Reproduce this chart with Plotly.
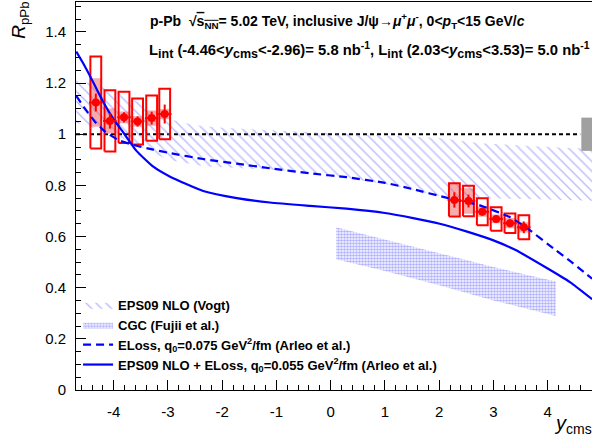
import plotly.graph_objects as go

# ---------------- data ----------------
# J/psi R_pPb, backward rapidity
y_bwd = [-4.33, -4.07, -3.81, -3.56, -3.30, -3.06]
r_bwd = [1.124, 1.052, 1.066, 1.050, 1.063, 1.079]
stat_bwd = [0.035, 0.030, 0.020, 0.020, 0.025, 0.037]
sysu_bwd = [0.180, 0.120, 0.100, 0.090, 0.088, 0.099]   # uncorrelated syst (open boxes)
sysc_bwd = [0.095, 0.049, 0.023, 0.020, 0.030, 0.020]   # correlated syst (filled boxes)

# forward rapidity
y_fwd = [2.28, 2.54, 2.795, 3.05, 3.305, 3.56]
r_fwd = [0.743, 0.739, 0.697, 0.669, 0.652, 0.636]
stat_fwd = [0.030, 0.025, 0.015, 0.015, 0.015, 0.023]
sysu_fwd = [0.065, 0.060, 0.053, 0.046, 0.038, 0.047]
sysc_fwd = [0.062, 0.050, 0.020, 0.017, 0.020, 0.020]

GLOBAL_SYS = 0.065

# EPS09 NLO (Vogt) band
eps_x = [-4.69, -4.0, -3.5, -3.0, -2.5, -2.0, -1.0, 0.0, 1.0, 2.0, 2.75, 3.5, 4.2, 4.82]
eps_hi = [1.215, 1.17, 1.12, 1.06, 1.035, 1.025, 1.015, 1.005, 0.995, 0.985, 0.965, 0.955, 0.948, 0.943]
eps_lo_x = [-4.69, -4.0, -3.5, -3.0, -2.35, -1.0, -0.38, 0.29, 1.0, 1.52, 2.13, 3.0, 4.0, 4.82]
eps_lo = [1.045, 1.0, 0.95, 0.90, 0.875, 0.86, 0.85, 0.828, 0.805, 0.782, 0.752, 0.748, 0.745, 0.740]

# CGC (Fujii et al.) band
cgc_x = [0.1, 1.0, 2.0, 3.0, 4.15]
cgc_hi = [0.636, 0.589, 0.535, 0.481, 0.424]
cgc_lo = [0.511, 0.465, 0.410, 0.350, 0.289]

# ELoss, q0 = 0.075 GeV^2/fm
eloss_x = [-4.69, -4.53, -4.35, -4.16, -3.89, -3.58, -3.27, -2.96, -2.35, -1.73, -1.12,
           -0.38, 0.29, 1.0, 1.52, 2.13, 2.75, 3.3, 3.56, 4.16, 4.41, 4.82]
eloss_r = [1.15, 1.10, 1.05, 1.01, 0.975, 0.955, 0.94, 0.926, 0.903, 0.885, 0.867,
           0.847, 0.832, 0.81, 0.785, 0.752, 0.722, 0.676, 0.642, 0.545, 0.505, 0.435]

# EPS09 NLO + ELoss, q0 = 0.055 GeV^2/fm
epsel_x = [-4.69, -4.53, -4.43, -4.19, -4.0, -3.8, -3.58, -3.27, -2.96, -2.35, -1.73,
           -1.12, -0.38, 0.29, 1.0, 1.52, 2.01, 2.5, 3.0, 3.4, 4.0, 4.41, 4.82]
epsel_r = [1.323, 1.265, 1.225, 1.125, 1.058, 1.0, 0.935, 0.873, 0.834, 0.778, 0.750,
           0.733, 0.720, 0.709, 0.692, 0.672, 0.650, 0.620, 0.585, 0.548, 0.475, 0.422, 0.355]

x_ticks = [-4, -3, -2, -1, 0, 1, 2, 3, 4]
x_ticktext = ["-4", "-3", "-2", "-1", "0", "1", "2", "3", "4"]

# ---------------- styling ----------------
FONT = "Liberation Sans"
RED = "rgb(255,0,0)"
BLUE = "rgb(0,0,255)"
BOX_HW = 0.1
XERR = 0.125
X_RANGE = [-4.695, 4.817]
Y_RANGE = [0.0, 1.517]


def boxes(xs, ys, hs):
    bx, by = [], []
    for x, y, h in zip(xs, ys, hs):
        bx += [x - BOX_HW, x + BOX_HW, x + BOX_HW, x - BOX_HW, x - BOX_HW, None]
        by += [y - h, y - h, y + h, y + h, y - h, None]
    return bx, by


def sub(s):
    return "<sub><span style='font-size:12.5px'>" + s + "</span></sub>"


fig = go.Figure()

# EPS09 band
fig.add_trace(go.Scatter(
    x=eps_x + eps_lo_x[::-1], y=eps_hi + eps_lo[::-1],
    fill="toself", mode="lines", line=dict(width=0),
    fillcolor="rgba(0,0,0,0)",
    fillpattern=dict(shape="\\", fgcolor="rgb(120,120,255)", bgcolor="rgba(0,0,0,0)",
                     size=7, solidity=0.2),
    name="<b>EPS09 NLO (Vogt)</b>", hoverinfo="skip"))

# CGC band
fig.add_trace(go.Scatter(
    x=cgc_x + cgc_x[::-1], y=cgc_hi + cgc_lo[::-1],
    fill="toself", mode="lines", line=dict(width=0),
    fillcolor="rgba(0,0,0,0)",
    fillpattern=dict(shape=".", fgcolor="rgb(100,100,255)", bgcolor="rgba(0,0,0,0)",
                     size=3, solidity=0.6),
    name="<b>CGC (Fujii et al.)</b>", hoverinfo="skip"))

# correlated systematic boxes
for xs, ys, hs in [(y_bwd, r_bwd, sysc_bwd), (y_fwd, r_fwd, sysc_fwd)]:
    bx, by = boxes(xs, ys, hs)
    fig.add_trace(go.Scatter(x=bx, y=by, fill="toself", mode="lines",
                             line=dict(width=0), fillcolor="rgba(240,90,90,0.5)",
                             showlegend=False, hoverinfo="skip"))

# uncorrelated systematic boxes
for xs, ys, hs in [(y_bwd, r_bwd, sysu_bwd), (y_fwd, r_fwd, sysu_fwd)]:
    bx, by = boxes(xs, ys, hs)
    fig.add_trace(go.Scatter(x=bx, y=by, mode="lines",
                             line=dict(width=2, color=RED),
                             showlegend=False, hoverinfo="skip"))

# theory curves
fig.add_trace(go.Scatter(
    x=eloss_x, y=eloss_r, mode="lines",
    line=dict(color=BLUE, width=2.2, dash="8px,5px", shape="spline", smoothing=0.5),
    name="<b>ELoss, q<sub>0</sub>=0.075 GeV<sup>2</sup>/fm (Arleo et al.)</b>"))
fig.add_trace(go.Scatter(
    x=epsel_x, y=epsel_r, mode="lines",
    line=dict(color=BLUE, width=2.2, shape="spline", smoothing=0.5),
    name="<b>EPS09 NLO + ELoss, q<sub>0</sub>=0.055 GeV<sup>2</sup>/fm (Arleo et al.)</b>"))

# global normalisation uncertainty
fig.add_trace(go.Scatter(
    x=[4.62, 4.95, 4.95, 4.62, 4.62],
    y=[1 - GLOBAL_SYS, 1 - GLOBAL_SYS, 1 + GLOBAL_SYS, 1 + GLOBAL_SYS, 1 - GLOBAL_SYS],
    fill="toself", mode="lines", line=dict(width=0), fillcolor="rgb(160,160,160)",
    showlegend=False, hoverinfo="skip"))

# data points
for xs, ys, st in [(y_bwd, r_bwd, stat_bwd), (y_fwd, r_fwd, stat_fwd)]:
    fig.add_trace(go.Scatter(
        x=xs, y=ys, mode="markers",
        marker=dict(color=RED, size=8, symbol="circle"),
        error_y=dict(type="data", array=st, color=RED, thickness=2, width=0),
        error_x=dict(type="constant", value=XERR, color=RED, thickness=2, width=0),
        showlegend=False))

# unity reference line
fig.add_shape(type="line", xref="x", yref="y", x0=X_RANGE[0], x1=4.6, y0=1, y1=1,
              line=dict(color="black", width=2, dash="4px,3px"), layer="below")

tickfont = dict(family=FONT, size=15, color="black")
fig.update_xaxes(
    range=X_RANGE, tickmode="array", tickvals=x_ticks, ticktext=x_ticktext,
    ticks="inside", ticklen=10, tickwidth=1, tickcolor="black",
    minor=dict(dtick=0.2, tick0=0, ticks="inside", ticklen=5, tickcolor="black", showgrid=False),
    showline=True, linecolor="black", linewidth=1, mirror=True,
    showgrid=False, zeroline=False, tickfont=tickfont, ticklabelstandoff=8)
fig.update_yaxes(
    range=Y_RANGE, tick0=0, dtick=0.2,
    ticks="inside", ticklen=10, tickwidth=1, tickcolor="black",
    minor=dict(dtick=0.05, tick0=0, ticks="inside", ticklen=5, tickcolor="black", showgrid=False),
    showline=True, linecolor="black", linewidth=1,
    showgrid=False, zeroline=False, tickfont=tickfont, ticklabelstandoff=6)

fig.add_annotation(
    xref="paper", yref="paper", x=0.1395, y=0.952, xanchor="left", yanchor="middle",
    showarrow=False, font=dict(family=FONT, size=14, color="black"),
    text="<b>p-Pb  √<span style='text-decoration:overline'>s<sub>NN</sub></span>= 5.02 TeV, "
         "inclusive J/ψ→<i>μ</i><sup>+</sup><i>μ</i><sup>-</sup>, 0&lt;<i>p</i><sub>T</sub>&lt;15 GeV/<i>c</i></b>")
fig.add_annotation(
    xref="paper", yref="paper", x=0.1376, y=0.876, xanchor="left", yanchor="middle",
    showarrow=False, font=dict(family=FONT, size=14.8, color="black"),
    text="<b>L" + sub("int") + " (-4.46&lt;<i>y</i>" + sub("cms") + "&lt;-2.96)= 5.8 nb<sup>-1</sup>, "
         "L" + sub("int") + " (2.03&lt;<i>y</i>" + sub("cms") + "&lt;3.53)= 5.0 nb<sup>-1</sup></b>")
fig.add_annotation(
    xref="paper", yref="paper", x=-0.11, y=1.005, xanchor="center", yanchor="top",
    showarrow=False, textangle=-90, font=dict(family=FONT, size=19, color="black"),
    text="<i>R</i><sub>pPb</sub>")
fig.add_annotation(
    xref="paper", yref="paper", x=1.004, y=-0.09, xanchor="right", yanchor="middle",
    showarrow=False, font=dict(family=FONT, size=20, color="black"),
    text="<i>y</i><sub>cms</sub>")

fig.update_layout(
    width=592, height=446,
    margin=dict(l=76, r=0, t=2, b=56),
    plot_bgcolor="white", paper_bgcolor="white",
    font=dict(family=FONT, color="black"),
    showlegend=True,
    legend=dict(x=0.004, y=0.258, xanchor="left", yanchor="top",
                bgcolor="rgba(0,0,0,0)", itemwidth=30, tracegroupgap=0,
                font=dict(family=FONT, size=13, color="black")),
)

fig.write_html("out.html")
